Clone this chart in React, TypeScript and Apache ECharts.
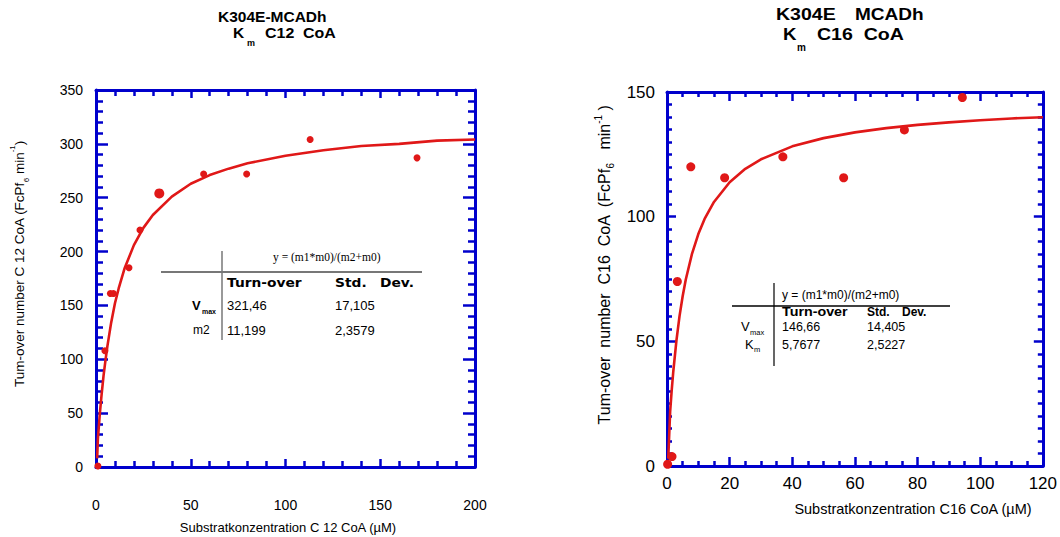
import React, { useEffect, useRef } from 'react';
import * as echarts from 'echarts';

// ---- C12 CoA (left panel) ----
const c12X = [1, 4.7, 7.6, 9.2, 17.4, 23.2, 33.4, 56.8, 79.5, 113, 169.4];
const c12Y = [1, 108, 161, 161, 185, 220, 254, 272, 272, 304, 287];
const c12FitX = [0.6, 1, 2, 3, 4, 5, 6, 8, 10, 12, 15, 20, 25, 30, 40, 50, 60, 70, 80, 100, 120, 140, 160, 180, 200];
const c12FitY = [8, 26, 49, 68, 85, 99, 112, 134, 152, 166, 184, 206, 222, 234, 251, 263, 271, 277, 282, 289, 294, 298, 300, 303, 304];
const c12XTicks = [0, 200, 50];
const c12YTicks = [0, 350, 50];

// ---- C16 CoA (right panel) ----
const c16X = [0.2, 1.6, 3.3, 7.6, 18.4, 37.0, 56.4, 75.8, 94.3];
const c16Y = [0.7, 3.8, 74, 120, 115.6, 124, 115.6, 134.8, 147.8];
const c16FitX = [0.4, 1, 1.5, 2, 3, 4, 5, 6, 8, 10, 12, 15, 20, 25, 30, 40, 50, 60, 70, 80, 90, 100, 110, 120];
const c16FitY = [3, 21.7, 30.3, 37.8, 50.2, 60.1, 68.1, 74.8, 85.2, 93.0, 99.1, 105.9, 113.8, 119.2, 123.0, 128.2, 131.5, 133.8, 135.5, 136.8, 137.8, 138.7, 139.4, 139.9];
const c16XTicks = [0, 120, 20];
const c16YTicks = [0, 150, 50];

// ---- fit tables ----
const c12Table = { formula: 'y = (m1*m0)/(m2+m0)', vmax: ['321,46', '17,105'], m2: ['11,199', '2,3579'] };
const c16Table = { formula: 'y = (m1*m0)/(m2+m0)', vmax: ['146,66', '14,405'], km: ['5,7677', '2,5227'] };

const SANS = '"Liberation Sans", Arial, sans-serif';
const BLUE = '#0000cc';
const RED = '#e01818';

function zip(xs: number[], ys: number[]) {
  return xs.map((x, i) => [x, ys[i]]);
}

function txt(x: number, y: number, text: string, size: number, o: any = {}) {
  return {
    type: 'text',
    x,
    y,
    scaleX: o.scaleX ?? 1,
    rotation: o.rotation ?? 0,
    z: 10,
    style: {
      text,
      fontSize: size,
      fontFamily: o.family ?? SANS,
      fontWeight: o.bold ? 'bold' : 'normal',
      fill: '#000',
      align: o.align ?? 'left',
      verticalAlign: 'middle',
      rich: o.rich,
    },
  };
}

function line(x1: number, y1: number, x2: number, y2: number, color: string, w: number) {
  return { type: 'line', z: 10, shape: { x1, y1, x2, y2 }, style: { stroke: color, lineWidth: w } };
}

function axis(kind: 'x' | 'y', gridIndex: number, position: string, t: number[], minorSplit: number,
  tickLen: number, minorLen: number, labels: boolean, fontSize: number, margin: number) {
  return {
    type: 'value',
    gridIndex,
    position,
    min: t[0],
    max: t[1],
    interval: t[2],
    axisLine: { show: true, onZero: false, lineStyle: { color: BLUE, width: 3 } },
    axisTick: { show: true, inside: true, length: tickLen, lineStyle: { color: BLUE, width: 2.5 } },
    minorTick: { show: true, splitNumber: minorSplit, length: minorLen, lineStyle: { color: BLUE, width: 2.5 } },
    splitLine: { show: false },
    axisLabel: { show: labels, color: '#000', fontSize, fontFamily: SANS, margin },
  };
}

function richName(size: number) {
  return {
    a: { fontSize: size, fontFamily: SANS, lineHeight: 22, fill: '#000' },
    sub: { fontSize: Math.round(size * 0.62), fontFamily: SANS, lineHeight: 9, verticalAlign: 'bottom', fill: '#000' },
    sup: { fontSize: Math.round(size * 0.62), fontFamily: SANS, lineHeight: 9, verticalAlign: 'top', fill: '#000' },
  };
}

export default function App() {
  const ref = useRef<HTMLDivElement>(null);
  useEffect(() => {
    const chart = echarts.init(ref.current!, null, { renderer: 'svg' });
    const graphic: any[] = [
      // left titles
      txt(218, 17, 'K304E-MCADh', 14.5, { bold: true, scaleX: 1.07 }),
      txt(233, 33, 'K', 14.5, { bold: true, scaleX: 1.07 }),
      txt(247, 43, 'm', 9, { bold: true }),
      txt(265, 33, 'C12  CoA', 14.5, { bold: true, scaleX: 1.1 }),
      // right titles
      txt(776, 14, 'K304E', 17, { bold: true, scaleX: 1.15 }),
      txt(855, 14, 'MCADh', 17, { bold: true, scaleX: 1.12 }),
      txt(783, 34, 'K', 17, { bold: true, scaleX: 1.1 }),
      txt(797, 47, 'm', 10, { bold: true }),
      txt(817, 34, 'C16  CoA', 17, { bold: true, scaleX: 1.15 }),
      // axis names
      txt(19, 264, '{a|Tum-over number C 12 CoA (FcPf}{sub|6}{a| min}{sup|-1}{a|)}', 13.5,
        { rotation: Math.PI / 2, align: 'center', rich: richName(13.5) }),
      txt(604, 265, '{a|Tum-over  number  C16  CoA  (FcPf}{sub|6}{a|   min}{sup|-1}{a| )}', 16,
        { rotation: Math.PI / 2, align: 'center', rich: richName(16) }),
      txt(288, 527, 'Substratkonzentration C 12 CoA (µM)', 13, { align: 'center' }),
      txt(913, 509, 'Substratkonzentration C16 CoA (µM)', 14.5, { align: 'center' }),
      // left table
      line(222, 251, 222, 340, '#777', 1.5),
      line(161, 272, 422, 272, '#777', 2),
      txt(273, 257, c12Table.formula, 11.5, { family: '"Liberation Serif", "Times New Roman", serif' }),
      txt(227, 283, 'Turn-over', 12, { bold: true, family: '"DejaVu Sans", sans-serif', scaleX: 1.15 }),
      txt(335, 283, 'Std.', 12, { bold: true, family: '"DejaVu Sans", sans-serif', scaleX: 1.15 }),
      txt(380, 283, 'Dev.', 12, { bold: true, family: '"DejaVu Sans", sans-serif', scaleX: 1.15 }),
      txt(192, 305, 'V', 13, { bold: true }),
      txt(202, 311, 'max', 7, { bold: true }),
      txt(227, 305, c12Table.vmax[0], 13),
      txt(335, 305, c12Table.vmax[1], 13),
      txt(193, 330, 'm2', 12),
      txt(227, 330, c12Table.m2[0], 13),
      txt(335, 330, c12Table.m2[1], 13),
      // right table
      line(774, 283, 774, 366, '#000', 1.2),
      line(732, 306, 950, 306, '#000', 1.5),
      txt(782, 295, c16Table.formula, 12),
      txt(782, 312, 'Turn-over', 13, { bold: true, scaleX: 1.1 }),
      txt(867, 312, 'Std.', 12, { bold: true }),
      txt(902, 312, 'Dev.', 12, { bold: true }),
      txt(741, 326, 'V', 13),
      txt(750, 332, 'max', 7.5),
      txt(782, 327, c16Table.vmax[0], 12.5),
      txt(867, 327, c16Table.vmax[1], 12.5),
      txt(745, 344, 'K', 13),
      txt(754, 349, 'm', 7.5),
      txt(782, 345, c16Table.km[0], 12.5),
      txt(867, 345, c16Table.km[1], 12.5),
    ];

    chart.setOption({
      animation: false,
      backgroundColor: '#fff',
      grid: [
        { left: 96, top: 90, width: 379, height: 377 },
        { left: 667, top: 92, width: 379, height: 374 },
      ],
      xAxis: [
        axis('x', 0, 'bottom', c12XTicks, 5, 8, 6, true, 14, 31),
        axis('x', 0, 'top', c12XTicks, 5, 8, 6, false, 14, 8),
        axis('x', 1, 'bottom', c16XTicks, 4, 9, 5, true, 17, 9),
        axis('x', 1, 'top', c16XTicks, 4, 9, 5, false, 17, 8),
      ],
      yAxis: [
        axis('y', 0, 'left', c12YTicks, 5, 12, 7, true, 14, 13),
        axis('y', 0, 'right', c12YTicks, 5, 12, 7, false, 14, 8),
        axis('y', 1, 'left', c16YTicks, 10, 9, 5, true, 17, 12),
        axis('y', 1, 'right', c16YTicks, 10, 9, 5, false, 17, 8),
      ],
      series: [
        {
          type: 'line', xAxisIndex: 0, yAxisIndex: 0, data: zip(c12FitX, c12FitY),
          showSymbol: false, symbol: 'none', lineStyle: { color: RED, width: 2.6 }, z: 3,
        },
        {
          type: 'scatter', xAxisIndex: 0, yAxisIndex: 0, data: zip(c12X, c12Y),
          symbolSize: (_v: any, p: any) => (p.dataIndex === 6 ? 10 : 7),
          itemStyle: { color: RED, opacity: 1 }, z: 4,
        },
        {
          type: 'line', xAxisIndex: 2, yAxisIndex: 2, data: zip(c16FitX, c16FitY),
          showSymbol: false, symbol: 'none', lineStyle: { color: RED, width: 2.6 }, z: 3,
        },
        {
          type: 'scatter', xAxisIndex: 2, yAxisIndex: 2, data: zip(c16X, c16Y),
          symbolSize: 9, itemStyle: { color: RED, opacity: 1 }, z: 4,
        },
      ],
      graphic,
    });
    return () => chart.dispose();
  }, []);
  return <div ref={ref} style={{ position: 'absolute', left: 0, top: 0, width: 1060, height: 537 }} />;
}
